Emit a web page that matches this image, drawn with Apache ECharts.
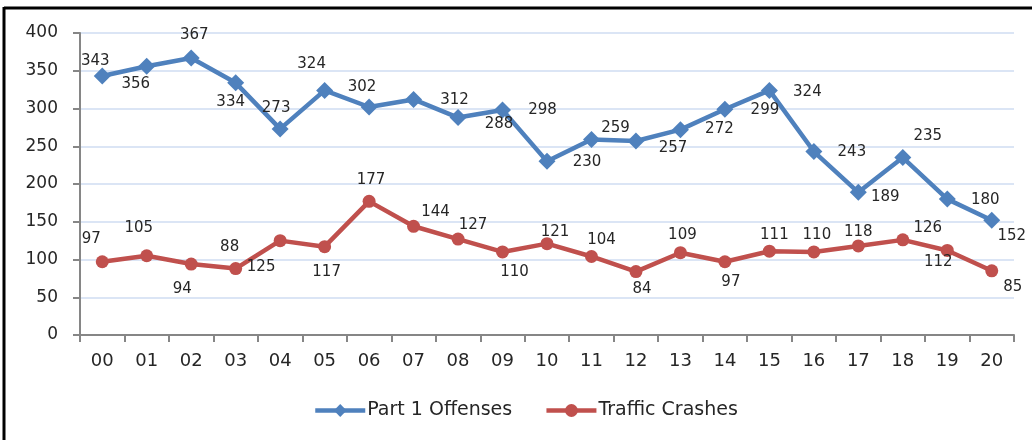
<!DOCTYPE html>
<html>
<head>
<meta charset="utf-8">
<script src="https://cdn.jsdelivr.net/npm/echarts@6/dist/echarts.min.js"></script>
<style>
html,body{margin:0;padding:0;background:#fff;}
#c{width:1032px;height:440px;}
</style>
</head>
<body>
<div id="c"></div>
<script>
const categories = ['00','01','02','03','04','05','06','07','08','09','10','11','12','13','14','15','16','17','18','19','20'];
const part1Offenses = [343,356,367,334,273,324,302,312,288,298,230,259,257,272,299,324,243,189,235,180,152];
const trafficCrashes = [97,105,94,88,125,117,177,144,127,110,121,104,84,109,97,111,110,118,126,112,85];
const yTicks = [0,50,100,150,200,250,300,350,400];

// label placement (style), offsets from the point in px
const blueLabelOffsets = [[-7,-15],[-11,18],[3,-23],[-5,19],[-4,-21],[-13,-26],[-7,-20],[41,1],[41,7],[40,0],[40,1],[24,-11],[37,7],[39,-1],[40,1],[38,2],[38,1],[27,5],[25,-21],[38,1],[20,16]];
const redLabelOffsets = [[-11,-23],[-8,-28],[-9,25],[-6,-21],[-19,26],[2,25],[2,-21],[22,-14],[15,-14],[12,20],[8,-12],[10,-16],[6,18],[2,-18],[6,20],[5,-16],[3,-17],[0,-14],[25,-12],[-9,12],[21,16]];

const FONT = 'DejaVu Sans';
function layoutFor(offs){
  return function(p){ const o = offs[p.dataIndex]; return {dx:o[0], dy:o[1], hideOverlap:false}; };
}

const chart = echarts.init(document.getElementById('c'));
chart.setOption({
  animation:false,
  backgroundColor:'#fff',
  textStyle:{fontFamily:FONT},
  grid:{left:80,right:18,top:33,bottom:105,containLabel:false},
  xAxis:{
    type:'category',
    data:categories,
    boundaryGap:true,
    axisLine:{lineStyle:{color:'#868686',width:2}},
    axisTick:{show:true,length:7,inside:false,lineStyle:{color:'#868686',width:2}},
    axisLabel:{color:'#262626',fontSize:18,fontFamily:FONT,margin:17},
    splitLine:{show:false}
  },
  yAxis:{
    type:'value',
    min:yTicks[0],max:yTicks[yTicks.length-1],interval:50,
    axisLine:{show:true,lineStyle:{color:'#868686',width:2}},
    axisTick:{show:true,length:7,lineStyle:{color:'#868686',width:2}},
    axisLabel:{color:'#262626',fontSize:17,fontFamily:FONT,margin:22},
    splitLine:{show:true,lineStyle:{color:'#dbe5f5',width:2}}
  },
  legend:{
    left:308,bottom:15,
    itemWidth:50,itemHeight:16,itemGap:32,
    lineStyle:{width:4.5},
    textStyle:{fontSize:19,color:'#262626',fontFamily:FONT,padding:[0,0,0,-3]},
    data:['Part 1 Offenses','Traffic Crashes']
  },
  series:[
    {
      name:'Part 1 Offenses',type:'line',
      data:part1Offenses,
      symbol:'diamond',symbolSize:17,
      itemStyle:{color:'#4f81bd'},
      lineStyle:{color:'#4f81bd',width:4.5},
      label:{show:true,position:'inside',color:'#262626',fontSize:15,fontFamily:FONT},
      labelLayout:layoutFor(blueLabelOffsets),
      z:3
    },
    {
      name:'Traffic Crashes',type:'line',
      data:trafficCrashes,
      symbol:'circle',symbolSize:13,
      itemStyle:{color:'#c0504d'},
      lineStyle:{color:'#c0504d',width:4.5},
      label:{show:true,position:'inside',color:'#262626',fontSize:15,fontFamily:FONT},
      labelLayout:layoutFor(redLabelOffsets),
      z:2
    }
  ],
  graphic:[
    {type:'line',shape:{x1:4,y1:8,x2:1032,y2:8},style:{stroke:'#000',lineWidth:3},silent:true},
    {type:'line',shape:{x1:4,y1:7,x2:4,y2:440},style:{stroke:'#000',lineWidth:3},silent:true}
  ]
});
</script>
</body>
</html>
